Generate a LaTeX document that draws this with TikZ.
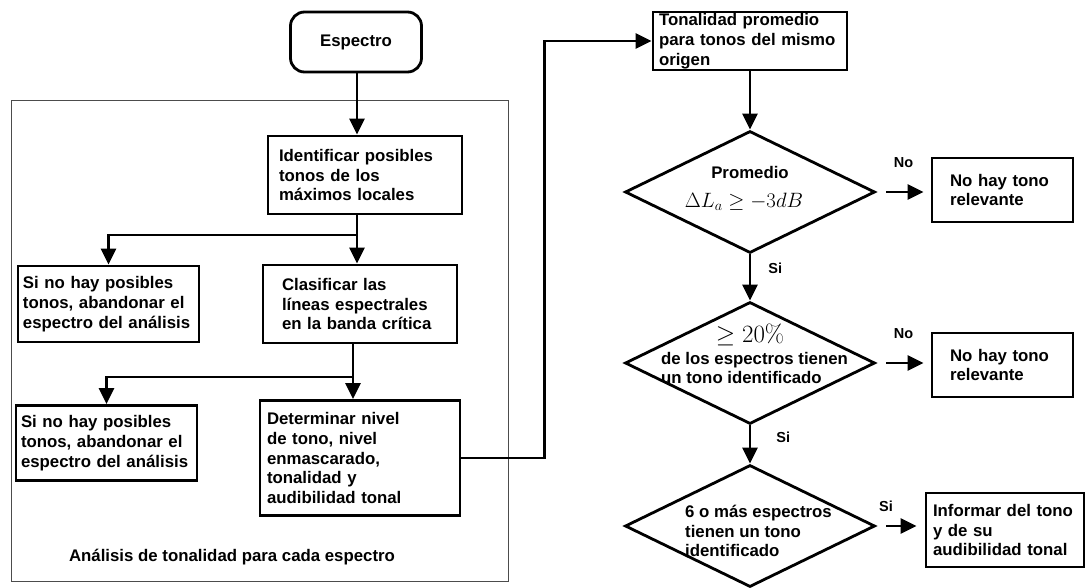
\documentclass[tikz,border=0pt]{standalone}
\usepackage[no-math]{fontspec}
\setmainfont{Liberation Sans}
\usetikzlibrary{shapes,arrows.meta}

\begin{document}
\begin{tikzpicture}[x=1pt,y=-1pt]
\tikzset{
block/.style={rectangle, draw=black, line width=2.8pt, align=left, inner ysep=2pt,
font=\bfseries\fontsize{16.8}{19.7}\selectfont},
startbox/.style={block, rounded corners=14pt, align=center, minimum width=131pt, minimum height=60pt},
decision/.style={diamond, draw=black, line width=2.8pt, minimum width=250pt, minimum height=122pt, inner sep=0pt},
dtext/.style={font=\bfseries\fontsize{16.8}{19.7}\selectfont, align=left, inner sep=0pt},
dmath/.style={font=\fontsize{21}{24}\selectfont, inner sep=0pt},
mylabel/.style={font=\bfseries\fontsize{14.5}{17}\selectfont, inner sep=0pt},
myarrow/.style={-{Triangle[length=16pt,width=15pt]}, line width=2.8pt},
groupframe/.style={draw=black!70, line width=1pt},
}
\useasboundingbox (0,0) rectangle (1087,587);

% grupo de la izquierda
\draw[groupframe] (11,100) rectangle (508,581);
\node[dtext] (caption) at (232,557) {Análisis de tonalidad para cada espectro};

\node [startbox] (espectro) at (356,42) {Espectro};
\node [block, text width=172pt, inner xsep=11pt, minimum height=78pt, node distance=133pt, below of=espectro, xshift=9pt] (ident) {Identificar posibles\\tonos de los\\máximos locales};
\node [block, text width=156pt, inner xsep=19pt, minimum height=78pt, node distance=129pt, below of=ident, xshift=-5pt] (clasif) {Clasificar las\\líneas espectrales\\en la banda crítica};
\node [block, text width=186pt, inner xsep=7pt, minimum height=115pt, node distance=154pt, below of=clasif] (determ) {Determinar nivel\\de tono, nivel\\enmascarado,\\tonalidad y\\audibilidad tonal};
\node [block, text width=171pt, inner xsep=5pt, minimum height=76pt, node distance=251.5pt, left of=clasif] (sino1) {Si no hay posibles\\tonos, abandonar el\\espectro del análisis};
\node [block, text width=171pt, inner xsep=5pt, minimum height=75pt, node distance=253.5pt, left of=determ, yshift=15pt] (sino2) {Si no hay posibles\\tonos, abandonar el\\espectro del análisis};

% columna de la derecha
\node [block, text width=182pt, inner xsep=6pt, inner ysep=1pt, minimum height=58pt, node distance=394pt, right of=espectro, yshift=1pt] (tonal) {Tonalidad promedio\\para tonos del mismo\\origen};
\node [decision, node distance=151pt, below of=tonal] (d1) {};
\node [decision, node distance=171pt, below of=d1] (d2) {};
\node [decision, node distance=163pt, below of=d2] (d3) {};
\node [block, text width=105pt, inner xsep=18pt, minimum height=64pt, node distance=252.5pt, right of=d1, yshift=2pt] (norel1) {No hay tono\\relevante};
\node [block, text width=105pt, inner xsep=18pt, minimum height=64pt, node distance=252.5pt, right of=d2, yshift=-2pt] (norel2) {No hay tono\\relevante};
\node [block, text width=144pt, inner xsep=7pt, minimum height=74pt, node distance=255pt, right of=d3, yshift=-4pt] (informar) {Informar del tono\\y de su\\audibilidad tonal};

% textos de los rombos
\node[dtext] (d1top) at ([yshift=20pt]d1.center) {Promedio};
\node[dmath] (d1bot) at ([yshift=-10pt,xshift=-6pt]d1.center) {$\Delta L_a \geq -3dB$};
\node[dmath, font=\fontsize{23}{26}\selectfont] (d2top) at ([yshift=28pt]d2.center) {$\geq 20\%$};
\node[dtext, anchor=west] (d2txt) at ([xshift=-89pt,yshift=-5pt]d2.center) {de los espectros tienen\\un tono identificado};
\node[dtext, anchor=west] (d3txt) at ([xshift=-65pt,yshift=-5pt]d3.center) {6 o más espectros\\tienen un tono\\identificado};

\coordinate (split1) at (357,235);
\coordinate (split2) at (353,377);

\draw[myarrow] (espectro.south -| split1) -- (ident.north -| split1);
\draw[myarrow] (ident.south -| split1) -- (clasif.north -| split1);
\draw[myarrow] (split1) -| (sino1);
\draw[myarrow] (clasif.south -| split2) -- (determ.north -| split2);
\draw[myarrow] (split2) -| (sino2);
\draw[myarrow] (determ.east) -- ++(83,0) |- (tonal.west);
\draw[myarrow] (tonal) -- (d1);
\draw[myarrow] (d1) -- node[mylabel, pos=0.3, right=17pt] {Si} (d2);
\draw[myarrow] (d2) -- node[mylabel, pos=0.3, right=25pt] {Si} (d3);
\draw[myarrow, shorten <=10pt, shorten >=7pt] (d1.east) -- node[mylabel, above=23pt] {No} (d1.east -| norel1.west);
\draw[myarrow, shorten <=10pt, shorten >=7pt] (d2.east) -- node[mylabel, above=23pt] {No} (d2.east -| norel2.west);
\draw[myarrow, shorten <=10pt, shorten >=8pt] (d3.east) -- node[mylabel, pos=0.2, above=13pt] {Si} (d3.east -| informar.west);
\end{tikzpicture}
\end{document}
